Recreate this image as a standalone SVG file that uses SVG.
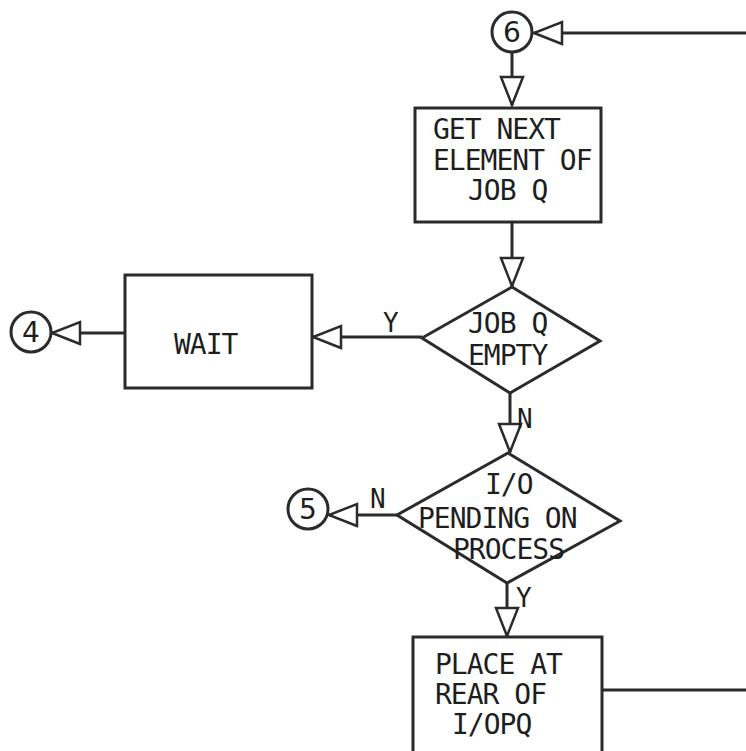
<svg xmlns="http://www.w3.org/2000/svg" width="746" height="751" viewBox="0 0 746 751">
  <style>
    .shape { fill: #ffffff; stroke: #2b2b2b; stroke-width: 3; }
    .conn { fill: none; stroke: #2b2b2b; stroke-width: 3; }
    .txt { font-family: "DejaVu Sans Mono", "Liberation Mono", monospace; font-size: 28px; letter-spacing: -1px; fill: #1e1e1e; }
    .num { font-family: "DejaVu Sans", "Liberation Sans", sans-serif; font-size: 28px; fill: #1e1e1e; text-anchor: middle; }
    .lbl { font-family: "DejaVu Sans Mono", "Liberation Mono", monospace; font-size: 26px; letter-spacing: -1px; fill: #1e1e1e; }
  </style>
  <defs>
    <marker id="arr" markerUnits="userSpaceOnUse" markerWidth="32" markerHeight="26" refX="28" refY="11" orient="auto" overflow="visible">
      <path d="M0,0 L28,11 L0,22 Z" fill="#ffffff" stroke="#2b2b2b" stroke-width="2.5" stroke-linejoin="miter"/>
    </marker>
  </defs>
  <rect width="746" height="751" fill="#ffffff"/>

  <g id="connectors">
    <path class="conn" d="M746,33 L534,33" marker-end="url(#arr)"/>
    <path class="conn" d="M512,52 L512,105" marker-end="url(#arr)"/>
    <path class="conn" d="M512,222 L512,286" marker-end="url(#arr)"/>
    <path class="conn" d="M422,337 L313,337" marker-end="url(#arr)"/>
    <path class="conn" d="M125,333 L52,333" marker-end="url(#arr)"/>
    <path class="conn" d="M510,393 L510,452" marker-end="url(#arr)"/>
    <path class="conn" d="M397,515 L329,515" marker-end="url(#arr)"/>
    <path class="conn" d="M507,583 L507,636" marker-end="url(#arr)"/>
    <path class="conn" d="M602,690 L746,690"/>
    <text class="lbl" x="383" y="332">Y</text>
    <text class="lbl" x="517" y="428">N</text>
    <text class="lbl" x="370" y="508">N</text>
    <text class="lbl" x="516" y="607">Y</text>
  </g>

  <g id="conn6">
    <circle class="shape" cx="512" cy="32" r="20"/>
    <text class="num" x="512" y="42">6</text>
  </g>

  <g id="getNext">
    <rect class="shape" x="415" y="108" width="186" height="114"/>
    <text class="txt" x="433" y="139">GET NEXT</text>
    <text class="txt" x="433" y="170">ELEMENT OF</text>
    <text class="txt" x="468" y="200">JOB Q</text>
  </g>

  <g id="jobQEmpty">
    <polygon class="shape" points="512,287 600,341 510,393 422,338"/>
    <text class="txt" x="468" y="333">JOB Q</text>
    <text class="txt" x="468" y="365">EMPTY</text>
  </g>

  <g id="wait">
    <rect class="shape" x="125" y="275" width="187" height="113"/>
    <text class="txt" x="174" y="354">WAIT</text>
  </g>

  <g id="conn4">
    <circle class="shape" cx="31" cy="332" r="20"/>
    <text class="num" x="31" y="342">4</text>
  </g>

  <g id="ioPending">
    <polygon class="shape" points="508,453 620,521 507,583 397,515"/>
    <text class="txt" x="485" y="494">I/O</text>
    <text class="txt" x="418" y="528">PENDING ON</text>
    <text class="txt" x="453" y="559">PROCESS</text>
  </g>

  <g id="conn5">
    <circle class="shape" cx="308" cy="509" r="20"/>
    <text class="num" x="308" y="519">5</text>
  </g>

  <g id="placeRear">
    <rect class="shape" x="413" y="637" width="189" height="130"/>
    <text class="txt" x="435" y="674">PLACE AT</text>
    <text class="txt" x="435" y="704">REAR OF</text>
    <text class="txt" x="452" y="734">I/OPQ</text>
  </g>
</svg>
